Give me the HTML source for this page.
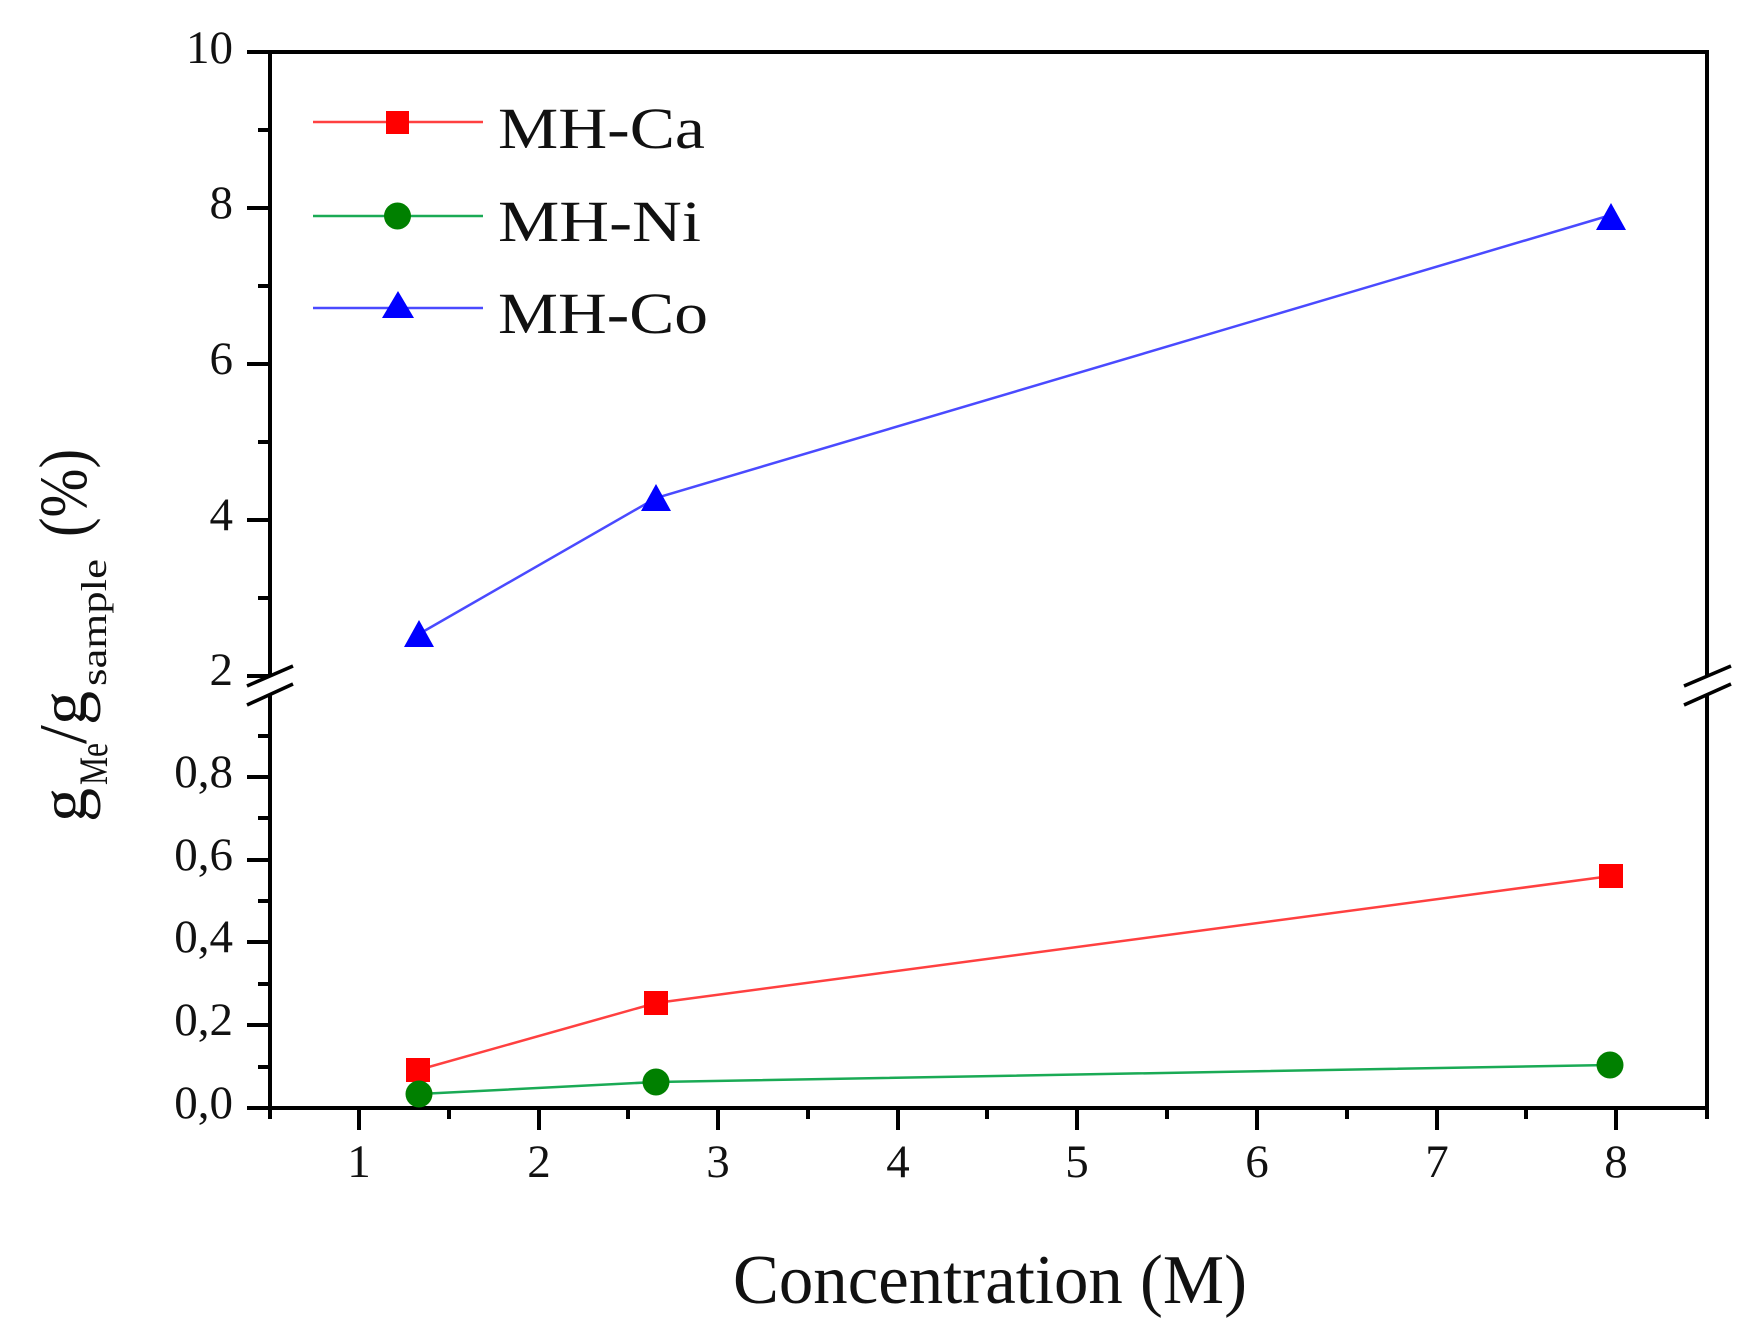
<!DOCTYPE html>
<html><head><meta charset="utf-8"><style>
html,body{margin:0;padding:0;background:#fff;}
svg{display:block;}
text{font-family:"Liberation Serif","DejaVu Serif",serif;fill:#111;}
</style></head><body>
<svg width="1749" height="1329" viewBox="0 0 1749 1329" xmlns="http://www.w3.org/2000/svg">
<rect width="1749" height="1329" fill="#fff"/>
<!-- frame -->
<g stroke="#000" stroke-width="4" fill="none" stroke-linecap="butt">
  <line x1="268" y1="52" x2="1709" y2="52"/>
  <line x1="268" y1="1108" x2="1709" y2="1108"/>
  <line x1="270" y1="50" x2="270" y2="676"/>
  <line x1="270" y1="695" x2="270" y2="1119"/>
  <line x1="1707" y1="50" x2="1707" y2="676"/>
  <line x1="1707" y1="695" x2="1707" y2="1119"/>
</g>
<!-- break marks -->
<g stroke="#000" stroke-width="3.5">
  <line x1="247" y1="686" x2="293" y2="666"/>
  <line x1="247" y1="705" x2="293" y2="684"/>
  <line x1="1684" y1="686" x2="1731" y2="666"/>
  <line x1="1684" y1="705" x2="1731" y2="684"/>
</g>
<!-- y ticks -->
<g stroke="#000" stroke-width="4">
  <line x1="247" y1="52" x2="270" y2="52"/>
  <line x1="258" y1="130" x2="270" y2="130"/>
  <line x1="247" y1="208" x2="270" y2="208"/>
  <line x1="258" y1="286" x2="270" y2="286"/>
  <line x1="247" y1="364" x2="270" y2="364"/>
  <line x1="258" y1="442" x2="270" y2="442"/>
  <line x1="247" y1="520" x2="270" y2="520"/>
  <line x1="258" y1="598" x2="270" y2="598"/>
  <line x1="247" y1="676" x2="270" y2="676"/>
  <line x1="258" y1="736" x2="270" y2="736"/>
  <line x1="247" y1="777" x2="270" y2="777"/>
  <line x1="258" y1="818" x2="270" y2="818"/>
  <line x1="247" y1="860" x2="270" y2="860"/>
  <line x1="258" y1="901" x2="270" y2="901"/>
  <line x1="247" y1="942" x2="270" y2="942"/>
  <line x1="258" y1="984" x2="270" y2="984"/>
  <line x1="247" y1="1025" x2="270" y2="1025"/>
  <line x1="258" y1="1067" x2="270" y2="1067"/>
  <line x1="247" y1="1108" x2="270" y2="1108"/>
</g>
<!-- x ticks -->
<g stroke="#000" stroke-width="4">
  <line x1="359" y1="1108" x2="359" y2="1130"/>
  <line x1="449" y1="1108" x2="449" y2="1119"/>
  <line x1="539" y1="1108" x2="539" y2="1130"/>
  <line x1="628" y1="1108" x2="628" y2="1119"/>
  <line x1="718" y1="1108" x2="718" y2="1130"/>
  <line x1="808" y1="1108" x2="808" y2="1119"/>
  <line x1="898" y1="1108" x2="898" y2="1130"/>
  <line x1="987" y1="1108" x2="987" y2="1119"/>
  <line x1="1077" y1="1108" x2="1077" y2="1130"/>
  <line x1="1167" y1="1108" x2="1167" y2="1119"/>
  <line x1="1257" y1="1108" x2="1257" y2="1130"/>
  <line x1="1347" y1="1108" x2="1347" y2="1119"/>
  <line x1="1437" y1="1108" x2="1437" y2="1130"/>
  <line x1="1526" y1="1108" x2="1526" y2="1119"/>
  <line x1="1616" y1="1108" x2="1616" y2="1130"/>
</g>
<!-- y tick labels -->
<g font-size="47" text-anchor="end">
  <text x="233" y="63">10</text>
  <text x="233" y="218">8</text>
  <text x="233" y="374">6</text>
  <text x="233" y="530">4</text>
  <text x="233" y="685">2</text>
  <text x="233" y="787">0,8</text>
  <text x="233" y="870">0,6</text>
  <text x="233" y="952">0,4</text>
  <text x="233" y="1035">0,2</text>
  <text x="233" y="1118">0,0</text>
</g>
<!-- x tick labels -->
<g font-size="47" text-anchor="middle">
  <text x="359" y="1177">1</text>
  <text x="539" y="1177">2</text>
  <text x="718" y="1177">3</text>
  <text x="898" y="1177">4</text>
  <text x="1077" y="1177">5</text>
  <text x="1257" y="1177">6</text>
  <text x="1437" y="1177">7</text>
  <text x="1616" y="1177">8</text>
</g>
<!-- axis titles -->
<text x="733" y="1303" font-size="70" textLength="514" lengthAdjust="spacingAndGlyphs">Concentration (M)</text>
<g transform="translate(86,822) rotate(-90)">
  <text x="0" y="0" font-size="68">g</text>
  <text x="37" y="21" font-size="40" textLength="42" lengthAdjust="spacingAndGlyphs">Me</text>
  <text x="78" y="0" font-size="68">/</text>
  <text x="97" y="0" font-size="68">g</text>
  <text x="136" y="20" font-size="36" textLength="127" lengthAdjust="spacingAndGlyphs">sample</text>
  <text x="285" y="0" font-size="68" textLength="88" lengthAdjust="spacingAndGlyphs">(%)</text>
</g>
<!-- series lines -->
<polyline points="419,634 656,498 1611,215" fill="none" stroke="#4a4aff" stroke-width="2.5"/>
<polyline points="418,1070 656,1003 1611,876" fill="none" stroke="#ff4040" stroke-width="2.5"/>
<polyline points="419,1094 656,1082 1610,1065" fill="none" stroke="#1aaa55" stroke-width="2.5"/>
<!-- markers -->
<g fill="#0000ff">
  <polygon points="419,620 434,647 404,647"/>
  <polygon points="656,484 671,511 641,511"/>
  <polygon points="1611,203 1626,230 1596,230"/>
</g>
<g fill="#ff0000">
  <rect x="406" y="1058" width="24" height="24"/>
  <rect x="644" y="991" width="24" height="24"/>
  <rect x="1599" y="864" width="24" height="24"/>
</g>
<g fill="#008000">
  <circle cx="419" cy="1094" r="13.5"/>
  <circle cx="656" cy="1082" r="13.5"/>
  <circle cx="1610" cy="1065" r="13.5"/>
</g>
<!-- legend -->
<line x1="313" y1="122" x2="483" y2="122" stroke="#ff4040" stroke-width="2.5"/>
<rect x="386" y="111" width="23" height="23" fill="#ff0000"/>
<line x1="313" y1="216" x2="483" y2="216" stroke="#1aaa55" stroke-width="2.5"/>
<circle cx="397.5" cy="216" r="13.5" fill="#008000"/>
<line x1="313" y1="308" x2="483" y2="308" stroke="#4a4aff" stroke-width="2.5"/>
<polygon points="398,291 414,318 382,318" fill="#0000ff"/>
<text x="498" y="148" font-size="58" textLength="207" lengthAdjust="spacingAndGlyphs">MH-Ca</text>
<text x="498" y="241" font-size="58" textLength="203" lengthAdjust="spacingAndGlyphs">MH-Ni</text>
<text x="498" y="333" font-size="58" textLength="210" lengthAdjust="spacingAndGlyphs">MH-Co</text>
</svg>
</body></html>
